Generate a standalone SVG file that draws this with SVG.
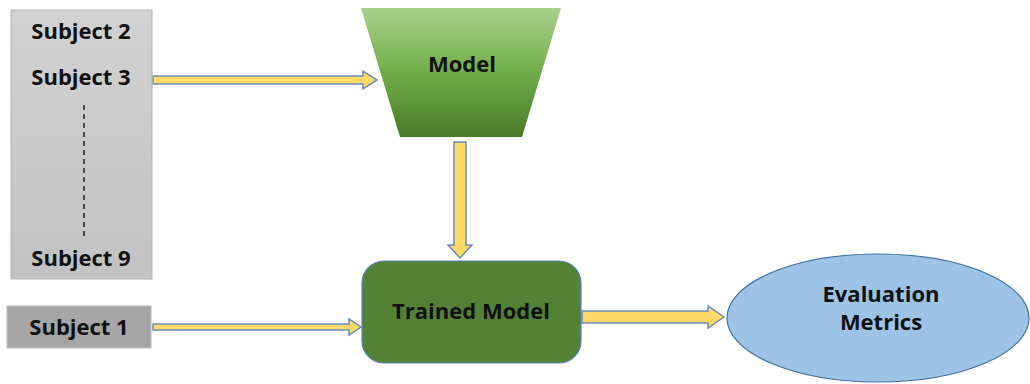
<svg xmlns="http://www.w3.org/2000/svg" width="1030" height="384" viewBox="0 0 1030 384">
<defs>
<linearGradient id="gGray" x1="0" y1="0" x2="0" y2="1"><stop offset="0" stop-color="#d2d2d2"/><stop offset="1" stop-color="#c2c2c2"/></linearGradient>
<linearGradient id="gGreen" x1="0" y1="0" x2="0" y2="1"><stop offset="0" stop-color="#a9d18e"/><stop offset="0.5" stop-color="#70ad47"/><stop offset="1" stop-color="#4a7a2c"/></linearGradient>
<style>
.t{font-family:"Open Sans","Liberation Sans",sans-serif;font-weight:bold;font-size:22px;fill:#111;text-anchor:middle}
.arr{fill:#ffd966;stroke:#6a8cc0;stroke-width:1.5;stroke-linejoin:miter}
</style>
</defs>
<g id="connectors">
<path class="arr" d="M153,76 L363,76 L363,71 L377,80 L363,89 L363,84 L153,84 Z"/>
<path class="arr" d="M454,142 L466,142 L466,245 L472,245 L460,258 L448,245 L454,245 Z"/>
<path class="arr" d="M153,324 L349,324 L349,319 L361,327 L349,335 L349,330 L153,330 Z"/>
<path class="arr" d="M582,311 L708,311 L708,306 L724,317 L708,328 L708,323 L582,323 Z"/>
</g>
<g id="subjects">
<rect x="11" y="10" width="141" height="269" fill="url(#gGray)" stroke="#b4b4b4" stroke-width="1"/>
<text class="t" x="81" y="39">Subject 2</text>
<text class="t" x="81" y="85">Subject 3</text>
<line x1="84" y1="105" x2="84" y2="237" stroke="#222" stroke-width="1.5" stroke-dasharray="5,4"/>
<text class="t" x="81" y="266">Subject 9</text>
</g>
<g id="subject1">
<rect x="7" y="306" width="144" height="42" fill="#a6a6a6" stroke="#bcbcbc" stroke-width="1"/>
<text class="t" x="79" y="335">Subject 1</text>
</g>
<g id="model">
<polygon points="361,8 561,8 522,137 400,137" fill="url(#gGreen)"/>
<text class="t" x="462" y="72">Model</text>
</g>
<g id="trained">
<rect x="362" y="261" width="219" height="102" rx="22" fill="#548235" stroke="#5b7fc0" stroke-width="1.2"/>
<text class="t" x="471" y="319">Trained Model</text>
</g>
<g id="eval">
<ellipse cx="878" cy="318" rx="151" ry="64" fill="#9dc3e6" stroke="#41719c" stroke-width="1.2"/>
<text class="t" x="881" y="302">Evaluation</text>
<text class="t" x="881" y="330">Metrics</text>
</g>
</svg>
